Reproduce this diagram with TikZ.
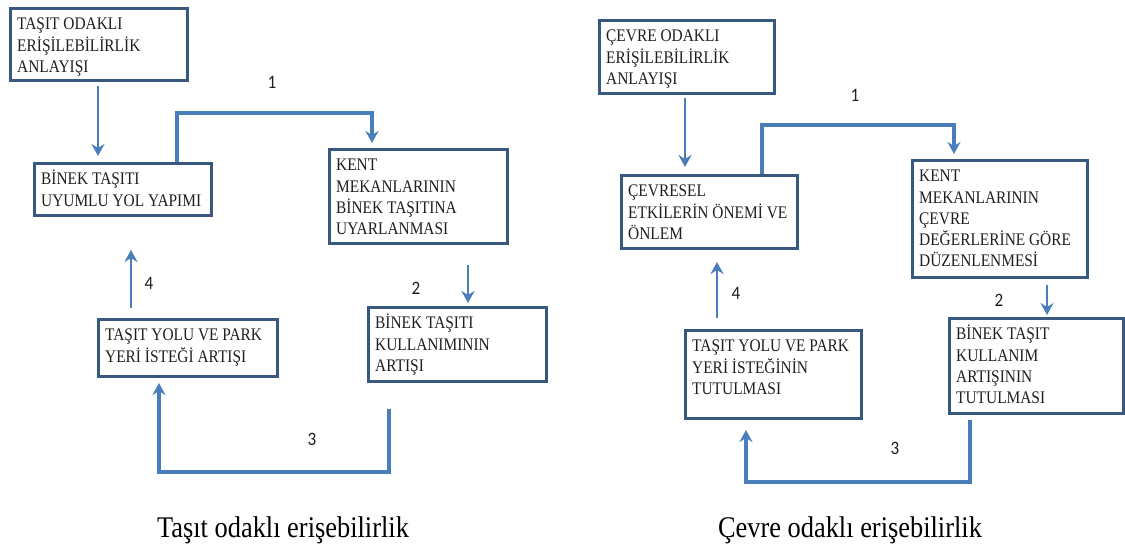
\documentclass[tikz,border=0pt]{standalone}
\usepackage{fontspec}
\setmainfont{Liberation Serif}
\newfontfamily\boxfont{Liberation Serif}[FakeStretch=0.87]
\newfontfamily\capfont{Liberation Serif}[FakeStretch=0.88]
\newfontfamily\numfont{Carlito}[FakeStretch=0.9]
\usetikzlibrary{arrows.meta,calc}

\definecolor{linkblue}{RGB}{74,126,187}
\definecolor{frameblue}{RGB}{56,88,128}

% strut that fixes the height of the first text line in every box
\newcommand\firstline{\rule{0pt}{16.5pt}}

\tikzset{
  box/.style={draw=frameblue, line width=3pt, anchor=north west, inner sep=0pt},
  boxtxt/.style={anchor=north west, inner sep=0pt, align=left, text=black!88,
    font=\boxfont\fontsize{17.7}{21.3}\selectfont},
  flow/.style={draw=linkblue, line width=2.6pt,
    -{Stealth[length=12pt,width=13pt,inset=4pt]}},
  loopflow/.style={flow, line width=3.4pt},
  steplabel/.style={font=\numfont\fontsize{19}{19}\selectfont, inner sep=0pt, text=black!88},
  caption/.style={font=\capfont\fontsize{30}{32}\selectfont, inner sep=0pt, anchor=base, text=black},
}

\begin{document}
\begin{tikzpicture}[x=1pt,y=-1pt]
\fill[white] (0,0) rectangle (1125,546);
\useasboundingbox (0,0) rectangle (1125,546);

% ---------------- vehicle oriented cycle ----------------
\node[box, minimum width=177pt, minimum height=72pt] (A) at (9,7) {};
\node[boxtxt] (At) at ($(A.north west)+(8,6)$) {\firstline TAŞIT ODAKLI\\ERİŞİLEBİLİRLİK\\ANLAYIŞI};

\node[box, minimum width=177pt, minimum height=52pt] (B) at (33,162) {};
\node[boxtxt] (Bt) at ($(B.north west)+(8,6)$) {\firstline BİNEK TAŞITI\\UYUMLU YOL YAPIMI};

\node[box, minimum width=178pt, minimum height=94pt] (C) at (328,148) {};
\node[boxtxt] (Ct) at ($(C.north west)+(8,6)$) {\firstline KENT\\MEKANLARININ\\BİNEK TAŞITINA\\UYARLANMASI};

\node[box, minimum width=179pt, minimum height=57pt] (D) at (97,318) {};
\node[boxtxt] (Dt) at ($(D.north west)+(8,6)$) {\firstline TAŞIT YOLU VE PARK\\YERİ İSTEĞİ ARTIŞI};

\node[box, minimum width=178pt, minimum height=74pt] (E) at (367,306) {};
\node[boxtxt] (Et) at ($(E.north west)+(8,6)$) {\firstline BİNEK TAŞITI\\KULLANIMININ\\ARTIŞI};

\draw[flow] ($(A.south west)+(89,4)$) -- ($(A.south west |- B.north)+(89,-6)$);
\draw[loopflow] ($(B.north west)+(144,0)$) -- ++(0,-49) -| ($(C.north west)+(44,-5)$);
\draw[flow] ($(C.south west)+(140,20)$) -- ($(E.north west)+(101,-3)$);
\draw[loopflow] ($(E.south west)+(22,26)$) -- ++(0,63) -| ($(D.south west)+(62,5)$);
\draw[flow] ($(D.north west)+(34,-10)$) -- ($(D.north west |- B.south)+(34,33)$);

\node[steplabel] (l1) at (272,82) {1};
\node[steplabel] (l2) at (416,288) {2};
\node[steplabel] (l3) at (312,439) {3};
\node[steplabel] (l4) at (149,283) {4};

% ---------------- environment oriented cycle ----------------
\node[box, minimum width=175pt, minimum height=73pt] (F) at (598,19) {};
\node[boxtxt] (Ft) at ($(F.north west)+(8,6)$) {\firstline ÇEVRE ODAKLI\\ERİŞİLEBİLİRLİK\\ANLAYIŞI};

\node[box, minimum width=176pt, minimum height=73pt] (G) at (620,174) {};
\node[boxtxt] (Gt) at ($(G.north west)+(8,6)$) {\firstline ÇEVRESEL\\ETKİLERİN ÖNEMİ VE\\ÖNLEM};

\node[box, minimum width=175pt, minimum height=117pt] (H) at (911,159) {};
\node[boxtxt] (Ht) at ($(H.north west)+(8,6)$) {\firstline KENT\\MEKANLARININ\\ÇEVRE\\DEĞERLERİNE GÖRE\\DÜZENLENMESİ};

\node[box, minimum width=174pt, minimum height=95pt] (I) at (948,317) {};
\node[boxtxt] (It) at ($(I.north west)+(8,6)$) {\firstline BİNEK TAŞIT\\KULLANIM\\ARTIŞININ\\TUTULMASI};

\node[box, minimum width=176pt, minimum height=88pt] (J) at (684,329) {};
\node[boxtxt] (Jt) at ($(J.north west)+(8,6)$) {\firstline TAŞIT YOLU VE PARK\\YERİ İSTEĞİNİN\\TUTULMASI};

\draw[flow] ($(F.south west)+(87,3)$) -- ($(F.south west |- G.north)+(87,-7)$);
\draw[loopflow, line width=4pt] ($(G.north west)+(142,0)$) -- ++(0,-49) -| ($(H.north west)+(43,-5)$);
\draw[flow] ($(H.south west)+(136,6)$) -- ($(I.north west)+(99,-2)$);
\draw[loopflow] ($(I.south west)+(22,5)$) -- ++(0,62) -| ($(J.south west)+(62,10)$);
\draw[flow] ($(J.north west)+(33,-11)$) -- ($(J.north west |- G.south)+(33,12)$);

\node[steplabel] (r1) at (855,95) {1};
\node[steplabel] (r2) at (999,300) {2};
\node[steplabel] (r3) at (895,448) {3};
\node[steplabel] (r4) at (736,293) {4};

% ---------------- captions ----------------
\node[caption] (capL) at (283,537) {Taşıt odaklı erişebilirlik};
\node[caption] (capR) at (850,537) {Çevre odaklı erişebilirlik};
\end{tikzpicture}
\end{document}
